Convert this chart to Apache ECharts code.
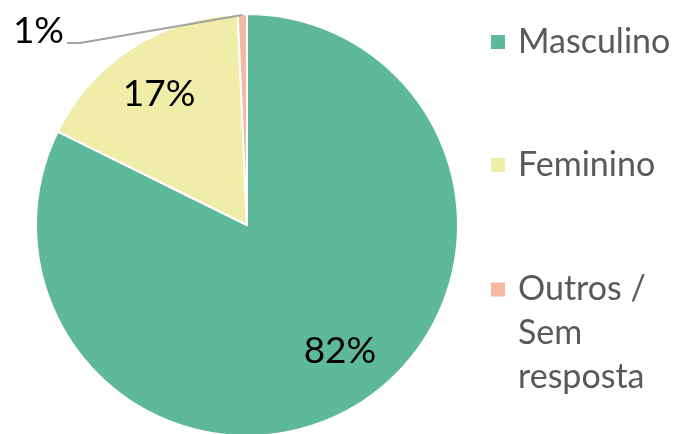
<!DOCTYPE html>
<html>
<head>
<meta charset="utf-8">
<script src="https://cdn.jsdelivr.net/npm/echarts@6/dist/echarts.min.js"></script>
<style>
  html, body { margin: 0; padding: 0; background: #fff; }
  #chart { width: 677px; height: 434px; }
</style>
</head>
<body>
<div id="chart"></div>
<script>
// values (shares in %)
const categories = ['Masculino', 'Feminino', 'Outros / Sem resposta']
const legendLines = [['Masculino'], ['Feminino'], ['Outros /', 'Sem', 'resposta']]
const shares = [82.3, 17.0, 0.7]
const colors = ['#5db99a', '#efeda8', '#f4b8a3']

const font = 'Lato, "Open Sans", sans-serif'
const chart = echarts.init(document.getElementById('chart'))

const pieData = categories.map((name, i) => ({
  name,
  value: shares[i],
  itemStyle: { color: colors[i] }
}))

// legend text is centred on the icon, so pad multi-line entries with blank
// lines above to keep the first line level with the square
function legendText(lines) {
  const pad = new Array(lines.length - 1).fill('')
  return pad.concat(lines.map((l) => '{t|' + l + '}')).join('\n')
}

function legendFor(i, top) {
  return {
    data: [categories[i]],
    left: 489,
    top,
    padding: 0,
    orient: 'vertical',
    icon: 'rect',
    itemWidth: 16,
    itemHeight: 16,
    selectedMode: false,
    formatter: () => legendText(legendLines[i]),
    textStyle: {
      fontFamily: font,
      fontSize: 34,
      lineHeight: 44,
      color: '#595959',
      rich: {
        t: {
          fontFamily: font,
          fontSize: 34,
          lineHeight: 44,
          color: '#595959',
          padding: [0, 0, 0, 7]
        }
      }
    }
  }
}

// the small slice's label sits out at the top left, with a leader line
// running from the tip of its sector
const outLabelX = 66
const outLabelY = 31

function placeLabels(p) {
  if (p.dataIndex === 0) return { dx: 10, dy: -9 }
  if (p.dataIndex === 1) return { dy: 2 }
  const r = p.rect
  const lineY = outLabelY + 12
  return {
    x: outLabelX,
    y: outLabelY,
    align: 'right',
    verticalAlign: 'middle',
    labelLinePoints: [
      [r.x + r.width / 2, r.y + 1],
      [outLabelX + 14, lineY],
      [outLabelX + 1, lineY]
    ]
  }
}

chart.setOption({
  backgroundColor: '#fff',
  animation: false,
  legend: [legendFor(0, 20), legendFor(1, 143), legendFor(2, 179.5)],
  series: [
    {
      type: 'pie',
      z: 1,
      center: [247, 225],
      radius: [0, 211],
      startAngle: 90,
      itemStyle: { borderColor: '#fff', borderWidth: 2 },
      data: pieData,
      label: { show: false },
      labelLine: { show: false },
      emphasis: { disabled: true }
    },
    {
      // transparent ring drawn on top, only carrying the labels; the inside
      // ones land at ~0.74 of the radius this way
      type: 'pie',
      z: 5,
      silent: true,
      center: [247, 225],
      radius: [101, 211],
      startAngle: 90,
      percentPrecision: 0,
      itemStyle: { color: 'rgba(0,0,0,0)', borderWidth: 0 },
      data: pieData.map((d, i) => ({
        name: d.name,
        value: d.value,
        label: { position: i === 2 ? 'outside' : 'inside' },
        labelLine: { show: i === 2 }
      })),
      label: {
        show: true,
        formatter: '{d}%',
        fontFamily: font,
        fontSize: 37,
        color: '#000',
        padding: [0, 2, 0, 0]
      },
      labelLine: {
        lineStyle: { color: '#a3a3a3', width: 2 },
        length: 10,
        length2: 10
      },
      labelLayout: placeLabels
    }
  ]
})
</script>
</body>
</html>
